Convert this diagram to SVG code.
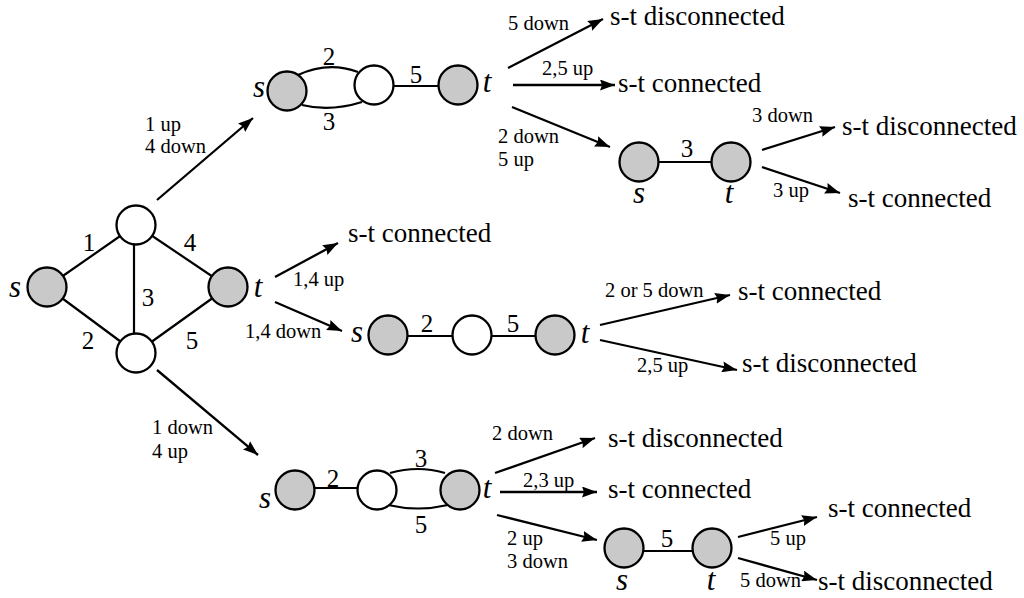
<svg xmlns="http://www.w3.org/2000/svg" width="1024" height="598" viewBox="0 0 1024 598" font-family="'Liberation Serif','Times New Roman',serif">
<style>
.bg{fill:#ffffff}
.g{fill:#c9c9c9;stroke:#000;stroke-width:2.3}
.w{fill:#ffffff;stroke:#000;stroke-width:2.3}
.e{fill:none;stroke:#000;stroke-width:2.2}
.a{fill:none;stroke:#000;stroke-width:2.3;marker-end:url(#ah)}
text{font-family:"Liberation Serif","Times New Roman",serif;fill:#000}
.big{font-size:27px}
.sm{font-size:20.5px}
.num{font-size:25px;text-anchor:middle}
.it{font-size:31px;font-style:italic;text-anchor:middle}
</style>
<defs>
<marker id="ah" markerUnits="userSpaceOnUse" markerWidth="15" markerHeight="11" refX="15" refY="5.5" orient="auto">
<path d="M0,0 L15,5.5 L0,11 L2,5.5 z" fill="#000"/>
</marker>
</defs>
<rect class="bg" x="0" y="0" width="1024" height="598"/>

<g id="edges">
<line class="e" x1="47" y1="287" x2="136" y2="225"/>
<line class="e" x1="136" y1="225" x2="228" y2="287"/>
<line class="e" x1="47" y1="287" x2="136" y2="353"/>
<line class="e" x1="136" y1="353" x2="228" y2="287"/>
<line class="e" x1="134" y1="225" x2="134" y2="353"/>
<path class="e" d="M298,75 Q328,61 358,72"/>
<path class="e" d="M302,105 Q330,112 362,102"/>
<line class="e" x1="374" y1="86" x2="458" y2="86"/>
<line class="e" x1="639" y1="162" x2="731" y2="162"/>
<line class="e" x1="388" y1="336" x2="555" y2="336"/>
<line class="e" x1="295" y1="488" x2="377" y2="488"/>
<path class="e" d="M390,473 Q418,465 445,473"/>
<path class="e" d="M388,505 Q418,512 448,505"/>
<line class="e" x1="624" y1="551" x2="712" y2="551"/>
</g>

<g id="connectors">
<line class="a" x1="157" y1="200" x2="253" y2="118"/>
<line class="a" x1="157" y1="370" x2="258" y2="455"/>
<line class="a" x1="275" y1="277" x2="338" y2="243"/>
<line class="a" x1="275" y1="302" x2="342" y2="331"/>
<line class="a" x1="508" y1="68" x2="603" y2="19"/>
<line class="a" x1="513" y1="85" x2="615" y2="85"/>
<line class="a" x1="512" y1="107" x2="610" y2="147"/>
<line class="a" x1="762" y1="150" x2="835" y2="127"/>
<line class="a" x1="762" y1="167" x2="840" y2="193"/>
<line class="a" x1="600" y1="325" x2="730" y2="295"/>
<line class="a" x1="600" y1="340" x2="737" y2="370"/>
<line class="a" x1="495" y1="473" x2="595" y2="438"/>
<line class="a" x1="500" y1="492" x2="597" y2="492"/>
<line class="a" x1="497" y1="515" x2="597" y2="540"/>
<line class="a" x1="738" y1="537" x2="817" y2="517"/>
<line class="a" x1="738" y1="558" x2="817" y2="580"/>
</g>

<g id="edge-labels">
<text class="num" x="89" y="251">1</text>
<text class="num" x="190" y="251">4</text>
<text class="num" x="148" y="306">3</text>
<text class="num" x="88" y="349">2</text>
<text class="num" x="192" y="349">5</text>
<text class="num" x="329" y="65">2</text>
<text class="num" x="329" y="130">3</text>
<text class="num" x="416" y="83">5</text>
<text class="num" x="687" y="157">3</text>
<text class="num" x="427" y="332">2</text>
<text class="num" x="513" y="332">5</text>
<text class="num" x="333" y="487">2</text>
<text class="num" x="421" y="467">3</text>
<text class="num" x="421" y="533">5</text>
<text class="num" x="667" y="547">5</text>
</g>

<g id="connector-labels">
<text class="sm" x="145" y="131">1 up</text>
<text class="sm" x="145" y="153">4 down</text>
<text class="sm" x="152" y="434">1 down</text>
<text class="sm" x="152" y="458">4 up</text>
<text class="sm" x="293" y="286">1,4 up</text>
<text class="sm" x="245" y="338">1,4 down</text>
<text class="sm" x="508" y="30">5 down</text>
<text class="sm" x="542" y="75">2,5 up</text>
<text class="sm" x="498" y="143">2 down</text>
<text class="sm" x="498" y="166">5 up</text>
<text class="sm" x="752" y="122">3 down</text>
<text class="sm" x="773" y="197">3 up</text>
<text class="sm" x="605" y="297">2 or 5 down</text>
<text class="sm" x="637" y="372">2,5 up</text>
<text class="sm" x="492" y="440">2 down</text>
<text class="sm" x="523" y="487">2,3 up</text>
<text class="sm" x="507" y="545">2 up</text>
<text class="sm" x="507" y="568">3 down</text>
<text class="sm" x="770" y="545">5 up</text>
<text class="sm" x="740" y="587">5 down</text>
</g>

<g id="n-s0"><circle class="g" cx="47" cy="287" r="19.5"/><text class="it" x="15" y="297">s</text></g>
<g id="n-a0"><circle class="w" cx="136" cy="225" r="19.5"/></g>
<g id="n-b0"><circle class="w" cx="136" cy="353" r="19.5"/></g>
<g id="n-t0"><circle class="g" cx="228" cy="287" r="19.5"/><text class="it" x="258" y="297">t</text></g>

<g id="n-s1"><circle class="g" cx="287" cy="91" r="19.5"/><text class="it" x="259" y="97">s</text></g>
<g id="n-w1"><circle class="w" cx="374" cy="85" r="19.5"/></g>
<g id="n-t1"><circle class="g" cx="458" cy="85" r="19.5"/><text class="it" x="487" y="92">t</text></g>

<g id="n-s2"><circle class="g" cx="639" cy="162" r="19.5"/><text class="it" x="639" y="203">s</text></g>
<g id="n-t2"><circle class="g" cx="731" cy="162" r="19.5"/><text class="it" x="729" y="203">t</text></g>

<g id="n-s3"><circle class="g" cx="388" cy="335" r="19.5"/><text class="it" x="357" y="342">s</text></g>
<g id="n-w3"><circle class="w" cx="472" cy="335" r="19.5"/></g>
<g id="n-t3"><circle class="g" cx="555" cy="335" r="19.5"/><text class="it" x="585" y="343">t</text></g>

<g id="n-s4"><circle class="g" cx="295" cy="490" r="19.5"/><text class="it" x="265" y="508">s</text></g>
<g id="n-w4"><circle class="w" cx="377" cy="490" r="19.5"/></g>
<g id="n-t4"><circle class="g" cx="460" cy="490" r="19.5"/><text class="it" x="487" y="498">t</text></g>

<g id="n-s5"><circle class="g" cx="624" cy="548" r="19.5"/><text class="it" x="622" y="590">s</text></g>
<g id="n-t5"><circle class="g" cx="712" cy="548" r="19.5"/><text class="it" x="711" y="590">t</text></g>

<g id="o1"><text class="big" x="610" y="25">s-t disconnected</text></g>
<g id="o2"><text class="big" x="618" y="92">s-t connected</text></g>
<g id="o3"><text class="big" x="842" y="135">s-t disconnected</text></g>
<g id="o4"><text class="big" x="848" y="207">s-t connected</text></g>
<g id="o5"><text class="big" x="348" y="242">s-t connected</text></g>
<g id="o6"><text class="big" x="738" y="300">s-t connected</text></g>
<g id="o7"><text class="big" x="742" y="372">s-t disconnected</text></g>
<g id="o8"><text class="big" x="608" y="447">s-t disconnected</text></g>
<g id="o9"><text class="big" x="608" y="498">s-t connected</text></g>
<g id="o10"><text class="big" x="828" y="517">s-t connected</text></g>
<g id="o11"><text class="big" x="818" y="590">s-t disconnected</text></g>
</svg>
